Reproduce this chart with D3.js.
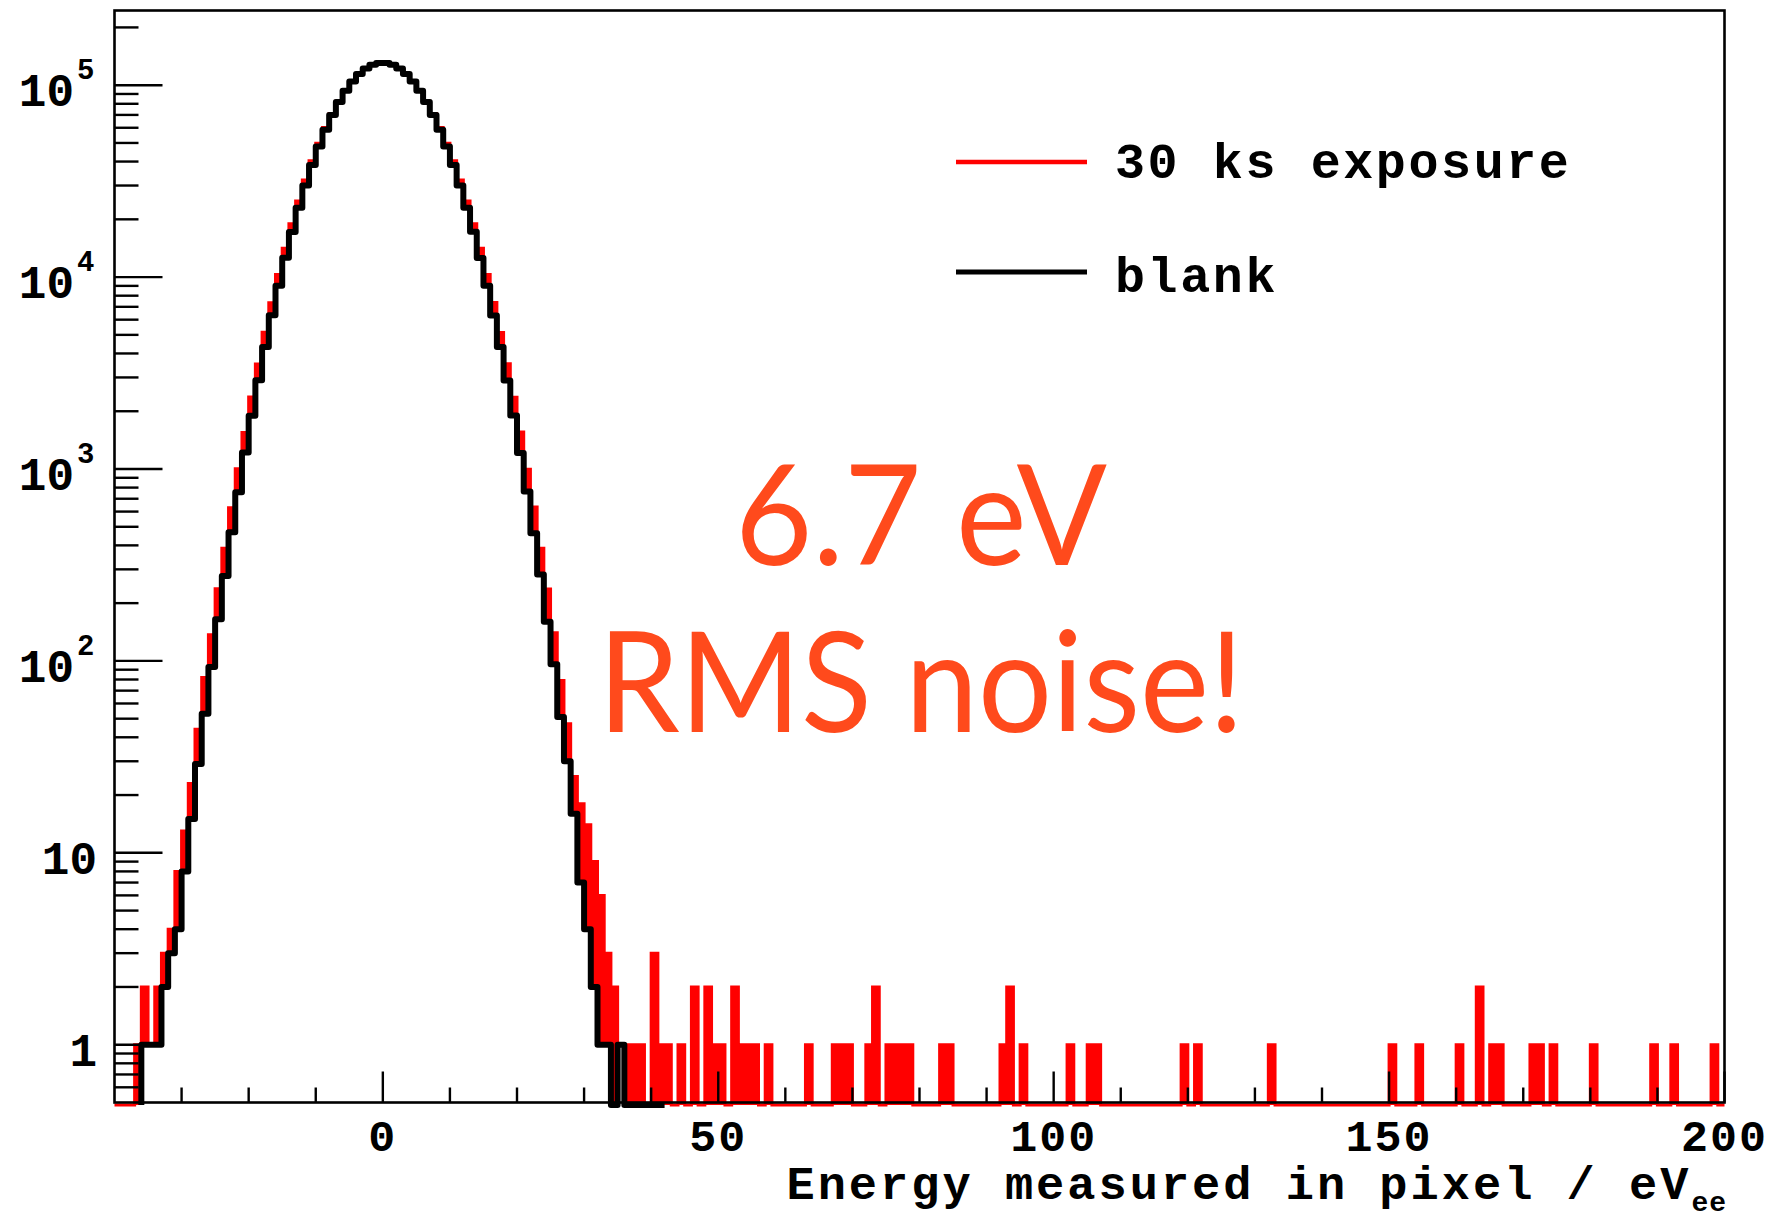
<!DOCTYPE html>
<html><head><meta charset="utf-8">
<script src="https://cdn.jsdelivr.net/npm/d3@7"></script>
<style>body{margin:0;background:#fff;} svg{display:block}</style>
</head><body>
<svg id="c" width="1772" height="1220"></svg>
<script>
// ---------------- data ----------------
const binWidth = 1;               // eV per bin
const xDomain = [-40, 200];
const yDomain = [0.5, 2.45e5];

// "30 ks exposure" histogram, bins with lower edges -40 ... 199
const exposureStart = -40;
const exposureCounts = [
  // -40 .. -31
  0, 0, 0, 1, 2, 1, 2, 3, 4, 8,
  // -30 .. -21
  13, 23, 44, 82, 137, 238, 386, 628, 1004, 1551,
  // -20 .. -11
  2372, 3528, 5160, 7361, 10312, 14120, 18960, 24895, 32050, 40360,
  // -10 .. -1
  49810, 60165, 71190, 82440, 93535, 103870, 112995, 120330, 125505, 128160,
  // 0 .. 9
  128165, 125495, 120340, 112985, 103885, 93520, 82455, 71175, 60178, 49800,
  // 10 .. 19
  40372, 32035, 24905, 18950, 14130, 10302, 7370, 5150, 3536, 2366,
  // 20 .. 29
  1560, 998, 634, 387, 237, 140, 79, 47, 25, 18,
  // 30 .. 39
  14, 9, 6, 3, 2, 1, 1, 1, 1, 0,
  // 40 .. 49
  3, 1, 1, 0, 1, 0, 2, 0, 2, 1,
  // 50 .. 59
  1, 0, 2, 1, 1, 1, 0, 1, 0, 0,
  // 60 .. 69
  0, 0, 0, 1, 0, 0, 0, 1, 1, 1,
  // 70 .. 79
  0, 0, 1, 2, 0, 1, 1, 1, 1, 0,
  // 80 .. 89
  0, 0, 0, 1, 1, 0, 0, 0, 0, 0,
  // 90 .. 99
  0, 0, 1, 2, 0, 1, 0, 0, 0, 0,
  // 100 .. 109
  0, 0, 1, 0, 0, 1, 1, 0, 0, 0,
  // 110 .. 119
  0, 0, 0, 0, 0, 0, 0, 0, 0, 1,
  // 120 .. 129
  0, 1, 0, 0, 0, 0, 0, 0, 0, 0,
  // 130 .. 139
  0, 0, 1, 0, 0, 0, 0, 0, 0, 0,
  // 140 .. 149
  0, 0, 0, 0, 0, 0, 0, 0, 0, 0,
  // 150 .. 159
  1, 0, 0, 0, 1, 0, 0, 0, 0, 0,
  // 160 .. 169
  1, 0, 0, 2, 0, 1, 1, 0, 0, 0,
  // 170 .. 179
  0, 1, 1, 0, 1, 0, 0, 0, 0, 0,
  // 180 .. 189
  1, 0, 0, 0, 0, 0, 0, 0, 0, 1,
  // 190 .. 199
  0, 0, 1, 0, 0, 0, 0, 0, 1, 0
];

// "blank" histogram, bins with lower edges -36 ... 41
const blankStart = -36;
const blankCounts = [
  // -36 .. -27
  1, 1, 1, 2, 3, 4, 8, 15, 29, 53,
  // -26 .. -17
  93, 165, 277, 468, 757, 1218, 1893, 2899, 4318, 6320,
  // -16 .. -7
  9012, 12603, 17198, 22990, 30020, 38372, 47930, 58592, 70005, 81835,
  // -6 .. -1
  93525, 104555, 114285, 122198, 127750, 130640,
  // 0 .. 9
  130630, 127765, 122185, 114300, 104540, 93538, 81820, 70020, 58578, 47945,
  // 10 .. 19
  38360, 30035, 22978, 17210, 12590, 9024, 6308, 4328, 2890, 1900,
  // 20 .. 29
  1210, 764, 462, 282, 160, 96, 51, 30, 16, 7,
  // 30 .. 41
  4, 2, 1, 1, 0, 1, 0, 0, 0, 0, 0, 0
];

const seriesNames = ["30 ks exposure", "blank"];
const seriesColors = ["#ff0000", "#000000"];
const xMajorTicks = [0, 50, 100, 150, 200];
const xTickLabels = ["0", "50", "100", "150", "200"];
const yMajorTicks = [1, 10, 100, 1000, 10000, 100000];
const yTickBase = ["1", "10", "10", "10", "10", "10"];
const yTickExp = ["", "", "2", "3", "4", "5"];
const xTitle = "Energy measured in pixel / eV";
const xTitleSub = "ee";
const noteLines = ["6.7 eV", "RMS noise!"];

// ---------------- drawing ----------------
const svg = d3.select("#c");
const x = d3.scaleLinear().domain(xDomain).range([114.5, 1724.5]);
const y = d3.scaleLog().domain(yDomain).range([1102.5, 10.5]);
const yZero = y(yDomain[0]) + 2.5;
const mono = "'Liberation Mono', 'Courier New', monospace";

function stepPoints(start, counts) {
  const yv = c => c > 0 ? y(c) : yZero;
  const pts = [[x(start), yZero]];
  counts.forEach((c, i) => {
    pts.push([x(start + i * binWidth), yv(c)]);
    pts.push([x(start + (i + 1) * binWidth), yv(c)]);
  });
  pts.push([x(start + counts.length * binWidth), yZero]);
  return pts;
}
const line = d3.line();

// exposure: filled red histogram
const expPts = stepPoints(exposureStart, exposureCounts);
svg.append("path").attr("d", line(expPts) + "Z")
  .attr("fill", seriesColors[0]).attr("stroke", "none");
svg.append("path").attr("d", line(expPts))
  .attr("fill", "none").attr("stroke", seriesColors[0]).attr("stroke-width", 3);

// blank: white-filled black histogram on top
const blkPts = stepPoints(blankStart, blankCounts);
svg.append("path").attr("d", line(blkPts) + "Z")
  .attr("fill", "#fff").attr("stroke", "none");
svg.append("path").attr("d", line(blkPts))
  .attr("fill", "none").attr("stroke", seriesColors[1]).attr("stroke-width", 6)
  .attr("stroke-linejoin", "round");

// frame
const [x0, x1] = x.range();
const [yb, yt] = y.range();
svg.append("rect").attr("x", x0).attr("y", yt).attr("width", x1 - x0).attr("height", yb - yt)
  .attr("fill", "none").attr("stroke", "#000").attr("stroke-width", 2.6);

// x ticks (inside)
const xMinor = x.ticks(24).filter(v => !xMajorTicks.includes(v) && v > xDomain[0] && v < xDomain[1]);
svg.append("g").selectAll("line").data(xMinor).join("line")
  .attr("x1", d => x(d)).attr("x2", d => x(d)).attr("y1", yb).attr("y2", yb - 15)
  .attr("stroke", "#000").attr("stroke-width", 2.4);
svg.append("g").selectAll("line").data(xMajorTicks).join("line")
  .attr("x1", d => x(d)).attr("x2", d => x(d)).attr("y1", yb).attr("y2", yb - 31)
  .attr("stroke", "#000").attr("stroke-width", 2.4);
svg.append("g").selectAll("text").data(xMajorTicks).join("text")
  .attr("x", d => x(d)).attr("y", 1151).attr("text-anchor", "middle")
  .attr("font-family", mono).attr("font-weight", "bold").attr("font-size", 45)
  .attr("letter-spacing", 2)
  .text((d, i) => xTickLabels[i]);

// y ticks (inside)
const yMinor = y.ticks().filter(v => !yMajorTicks.includes(v) && v > yDomain[0] && v < yDomain[1]);
svg.append("g").selectAll("line").data(yMinor).join("line")
  .attr("x1", x0).attr("x2", x0 + 24).attr("y1", d => y(d)).attr("y2", d => y(d))
  .attr("stroke", "#000").attr("stroke-width", 2.4);
svg.append("g").selectAll("line").data(yMajorTicks).join("line")
  .attr("x1", x0).attr("x2", x0 + 48).attr("y1", d => y(d)).attr("y2", d => y(d))
  .attr("stroke", "#000").attr("stroke-width", 2.4);
const yl = svg.append("g").attr("font-family", mono).attr("font-weight", "bold");
yMajorTicks.forEach((v, i) => {
  const ty = y(v);
  if (yTickExp[i] === "") {
    yl.append("text").attr("x", 97).attr("y", ty + 21).attr("text-anchor", "end")
      .attr("font-size", 46).text(yTickBase[i]);
  } else {
    yl.append("text").attr("x", 74).attr("y", ty + 21).attr("text-anchor", "end")
      .attr("font-size", 46).text(yTickBase[i]);
    yl.append("text").attr("x", 77).attr("y", ty - 6).attr("text-anchor", "start")
      .attr("font-size", 29).text(yTickExp[i]);
  }
});

// x axis title
const xt = svg.append("text").attr("x", 1727).attr("y", 1199).attr("text-anchor", "end")
  .attr("font-family", mono).attr("font-weight", "bold").attr("font-size", 47)
  .attr("letter-spacing", 3);
xt.append("tspan").text(xTitle);
xt.append("tspan").attr("font-size", 28).attr("dy", 12).attr("letter-spacing", 1).text(xTitleSub);

// legend
const legY = [162, 272];
const legTextY = [178, 292];
seriesNames.forEach((name, i) => {
  svg.append("line").attr("x1", 956).attr("x2", 1087).attr("y1", legY[i]).attr("y2", legY[i])
    .attr("stroke", seriesColors[i]).attr("stroke-width", i === 0 ? 4.5 : 5);
  svg.append("text").attr("x", 1115).attr("y", legTextY[i])
    .attr("font-family", mono).attr("font-weight", "bold").attr("font-size", 50)
    .attr("letter-spacing", 2.6).text(name);
});

// annotation
const noteY = [565, 732];
const noteW = [372, 646];
noteLines.forEach((t, i) => {
  svg.append("text").attr("x", 921).attr("y", noteY[i]).attr("text-anchor", "middle")
    .attr("font-family", "Lato, 'Open Sans', sans-serif").attr("font-size", 140)
    .attr("fill", "#ff4a1c")
    .attr("textLength", noteW[i]).attr("lengthAdjust", "spacingAndGlyphs")
    .text(t);
});
</script>
</body></html>
